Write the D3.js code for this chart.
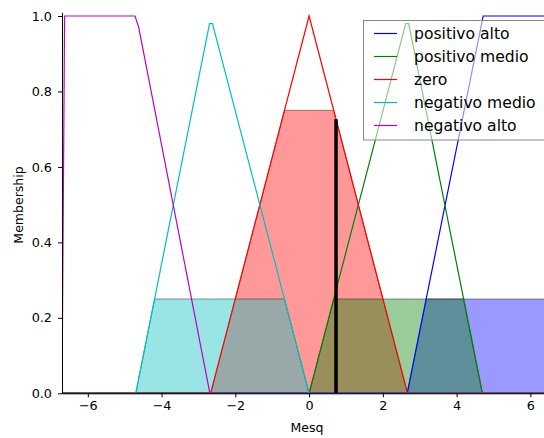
<!DOCTYPE html>
<html>
<head>
<meta charset="utf-8">
<script src="https://cdn.jsdelivr.net/npm/d3@7"></script>
<style>
  html, body { margin: 0; padding: 0; background: #fff; }
  svg { display: block; font-family: "DejaVu Sans", sans-serif; }
</style>
</head>
<body>
<svg id="chart" width="544" height="438"></svg>
<script>
// Universe of discourse for "Mesq"
const universe = [-6.7, 6.7];

// Membership functions (breakpoints: x, membership)
const positivoAltoX  = [-6.7, 2.66, 4.72, 6.7];
const positivoAltoY  = [0, 0, 1, 1];
const positivoMedioX = [-6.7, 0, 2.62, 2.70, 4.70, 6.7];
const positivoMedioY = [0, 0, 0.98, 0.98, 0, 0];
const zeroX          = [-6.7, -2.67, 0, 2.67, 6.7];
const zeroY          = [0, 0, 1, 0, 0];
const negMedioX      = [-6.7, -4.70, -2.70, -2.62, 0, 6.7];
const negMedioY      = [0, 0, 0.98, 0.98, 0, 0];
const negAltoX       = [-6.7, -6.63, -4.72, -4.62, -2.69, 6.7];
const negAltoY       = [0, 1, 1, 0.97, 0, 0];

// Activation level of each rule output
const activation = { positivoAlto: 0.25, positivoMedio: 0.25, zero: 0.75, negMedio: 0.25, negAlto: 0 };

// Defuzzified output
const crispOutput = 0.73;

const xTicks = [-6, -4, -2, 0, 2, 4, 6];
const yTicks = [0, 0.2, 0.4, 0.6, 0.8, 1.0];

const series = [
  { key: "positivoAlto",  label: "positivo alto",  color: "#0000ff", xs: positivoAltoX,  ys: positivoAltoY },
  { key: "positivoMedio", label: "positivo medio", color: "#008000", xs: positivoMedioX, ys: positivoMedioY },
  { key: "zero",          label: "zero",           color: "#ff0000", xs: zeroX,          ys: zeroY },
  { key: "negMedio",      label: "negativo medio", color: "#00bfbf", xs: negMedioX,      ys: negMedioY },
  { key: "negAlto",       label: "negativo alto",  color: "#bf00bf", xs: negAltoX,       ys: negAltoY }
];
series.forEach(s => { s.pts = s.xs.map((x, i) => ({ x, y: s.ys[i] })); });

// Piecewise-linear function clipped at a level, with crossing points inserted
function clipAt(pts, level) {
  const out = [];
  pts.forEach((p, i) => {
    if (i > 0) {
      const q = pts[i - 1];
      if ((q.y - level) * (p.y - level) < 0) {
        const t = (level - q.y) / (p.y - q.y);
        out.push({ x: q.x + t * (p.x - q.x), y: level });
      }
    }
    out.push({ x: p.x, y: Math.min(p.y, level) });
  });
  return out;
}
function valueAt(pts, x) {
  for (let i = 1; i < pts.length; i++) {
    const a = pts[i - 1], b = pts[i];
    if (x >= a.x && x <= b.x) return a.y + (b.y - a.y) * (x - a.x) / (b.x - a.x);
  }
  return 0;
}

const svg = d3.select("#chart");
const left = 62, bottom = 393.3;
const pxPerUnit = 36.88;
const x = d3.scaleLinear().domain(universe).range([left, left + (universe[1] - universe[0]) * pxPerUnit]);
const y = d3.scaleLinear().domain([0, 1.01]).range([bottom, bottom - 1.01 * 377.3]);

svg.append("defs").append("clipPath").attr("id", "plot")
  .append("rect").attr("x", left).attr("y", y(1.01))
  .attr("width", x(universe[1]) - left).attr("height", bottom - y(1.01));

const plot = svg.append("g").attr("clip-path", "url(#plot)");

// Clipped (activated) areas
const area = d3.area().x(d => x(d.x)).y0(y(0)).y1(d => y(d.y));
const fillOrder = ["positivoAlto", "zero", "positivoMedio", "negMedio", "negAlto"];
fillOrder.forEach(k => {
  const s = series.find(d => d.key === k);
  s.clipped = clipAt(s.pts, activation[k]);
  plot.append("path")
    .attr("d", area(s.clipped))
    .attr("fill", s.color).attr("fill-opacity", 0.4)
    .attr("stroke", "#000").attr("stroke-opacity", 0.4).attr("stroke-width", 1);
});

// Membership curves
const line = d3.line().x(d => x(d.x)).y(d => y(d.y));
series.forEach(s => {
  plot.append("path")
    .attr("d", line(s.pts))
    .attr("fill", "none").attr("stroke", s.color).attr("stroke-width", 1.2);
});

// Crisp output marker, up to the aggregated membership
const aggregated = d3.max(series, s => valueAt(s.clipped, crispOutput));
plot.append("line")
  .attr("x1", x(crispOutput)).attr("x2", x(crispOutput))
  .attr("y1", y(0)).attr("y2", y(aggregated))
  .attr("stroke", "#000").attr("stroke-width", 3.5);

// Axes
const xAxis = svg.append("g").attr("transform", `translate(0,${bottom})`)
  .call(d3.axisBottom(x).tickValues(xTicks).tickFormat(d3.format("d")).tickSize(4).tickSizeOuter(0).tickPadding(4));
const yAxis = svg.append("g").attr("transform", `translate(${left},0)`)
  .call(d3.axisLeft(y).tickValues(yTicks).tickFormat(d3.format(".1f")).tickSize(4).tickSizeOuter(0).tickPadding(6));
[xAxis, yAxis].forEach(g => {
  g.selectAll("text").attr("font-family", "DejaVu Sans").attr("font-size", 12.8).attr("fill", "#000");
  g.selectAll("path, line").attr("stroke", "#000").attr("stroke-width", 1);
});

svg.append("text").attr("x", 307).attr("y", 431.5).attr("text-anchor", "middle")
  .attr("font-size", 12.5).text("Mesq");
svg.append("text").attr("transform", "translate(23,205) rotate(-90)").attr("text-anchor", "middle")
  .attr("font-size", 12.5).text("Membership");

// Legend
const legend = svg.append("g");
legend.append("rect").attr("x", 363.5).attr("y", 20.5).attr("width", 200).attr("height", 119.5)
  .attr("fill", "#fff").attr("fill-opacity", 0.55).attr("stroke", "#888").attr("stroke-width", 1);
series.forEach((s, i) => {
  const yy = 33.5 + i * 23;
  legend.append("line").attr("x1", 374).attr("x2", 397).attr("y1", yy).attr("y2", yy)
    .attr("stroke", s.color).attr("stroke-width", 1.2);
  legend.append("text").attr("x", 414).attr("y", yy + 5.5).attr("font-size", 15.6).text(s.label);
});
</script>
</body>
</html>
